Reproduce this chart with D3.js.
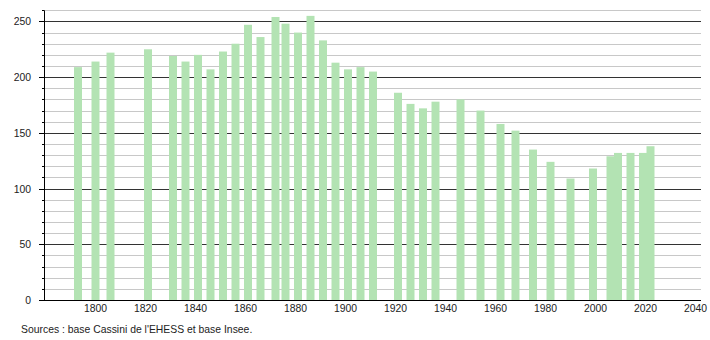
<!DOCTYPE html>
<html><head><meta charset="utf-8">
<script src="https://cdn.jsdelivr.net/npm/d3@7"></script>
<style>body{margin:0;background:#fff}svg{display:block}</style>
</head><body><svg id="c" width="710" height="340" font-family="Liberation Sans, Arial, sans-serif"></svg>
<script>
const years = [1793,1800,1806,1821,1831,1836,1841,1846,1851,1856,1861,1866,1872,1876,1881,1886,1891,1896,1901,1906,1911,1921,1926,1931,1936,1946,1954,1962,1968,1975,1982,1990,1999,2006,2009,2014,2019,2022];
const population = [209,214,222,225,219,214,220,207,223,230,247,236,254,248,240,255,233,213,207,209,205,186,176,172,178,180,170,158,152,135,124,109,118,129,132,132,132,138];
const xTicks = [1800,1820,1840,1860,1880,1900,1920,1940,1960,1980,2000,2020,2040];
const yMajor = [0,50,100,150,200,250];
const sourceText = "Sources : base Cassini de l'EHESS et base Insee.";

(function(){
const svg = d3.select("#c");
const pL = 44, pR = 701, pT = 10.3, pB = 300;
const x = d3.scaleLinear().domain([1800,2040]).range([95.5,695.5]);
const y = d3.scaleLinear().domain([0,260]).range([pB, pT]);
const minor = d3.range(0,261,10);

svg.append("g").selectAll("line").data(minor.filter(v=>v%50!==0)).join("line")
  .attr("x1",pL).attr("x2",pR).attr("y1",d=>Math.round(y(d))+0.5).attr("y2",d=>Math.round(y(d))+0.5)
  .attr("stroke","#c8c8c8").attr("stroke-width",1);
svg.append("g").selectAll("line").data(yMajor.filter(v=>v>0)).join("line")
  .attr("x1",pL).attr("x2",pR).attr("y1",d=>Math.round(y(d))+0.5).attr("y2",d=>Math.round(y(d))+0.5)
  .attr("stroke","#333").attr("stroke-width",1);

svg.append("g").selectAll("rect").data(years).join("rect")
  .attr("x",d=>x(d)-4).attr("width",8)
  .attr("y",(d,i)=>y(population[i])).attr("height",(d,i)=>pB-y(population[i]))
  .attr("fill","#b3e3b3");

const ya = svg.append("g");
ya.append("line").attr("x1",pL+0.5).attr("x2",pL+0.5).attr("y1",pT).attr("y2",pB).attr("stroke","#000");
ya.selectAll("line.t").data(minor).join("line").attr("class","t")
  .attr("x1",d=>d%50===0?39:42).attr("x2",pL)
  .attr("y1",d=>Math.round(y(d))+0.5).attr("y2",d=>Math.round(y(d))+0.5).attr("stroke","#000");
ya.selectAll("text").data(yMajor).join("text")
  .attr("x",31).attr("y",d=>y(d)+4).attr("text-anchor","end")
  .attr("font-size",10.4).attr("fill","#222").text(d=>d);

svg.append("line").attr("x1",pL).attr("x2",pR).attr("y1",pB+0.5).attr("y2",pB+0.5).attr("stroke","#000");
svg.append("g").selectAll("text").data(xTicks).join("text")
  .attr("x",d=>x(d)).attr("y",312).attr("text-anchor","middle")
  .attr("font-size",10.4).attr("fill","#222").text(d=>d);

svg.append("text").attr("x",21).attr("y",333).attr("font-size",10.4).attr("fill","#222").text(sourceText);
})();
</script></body></html>
